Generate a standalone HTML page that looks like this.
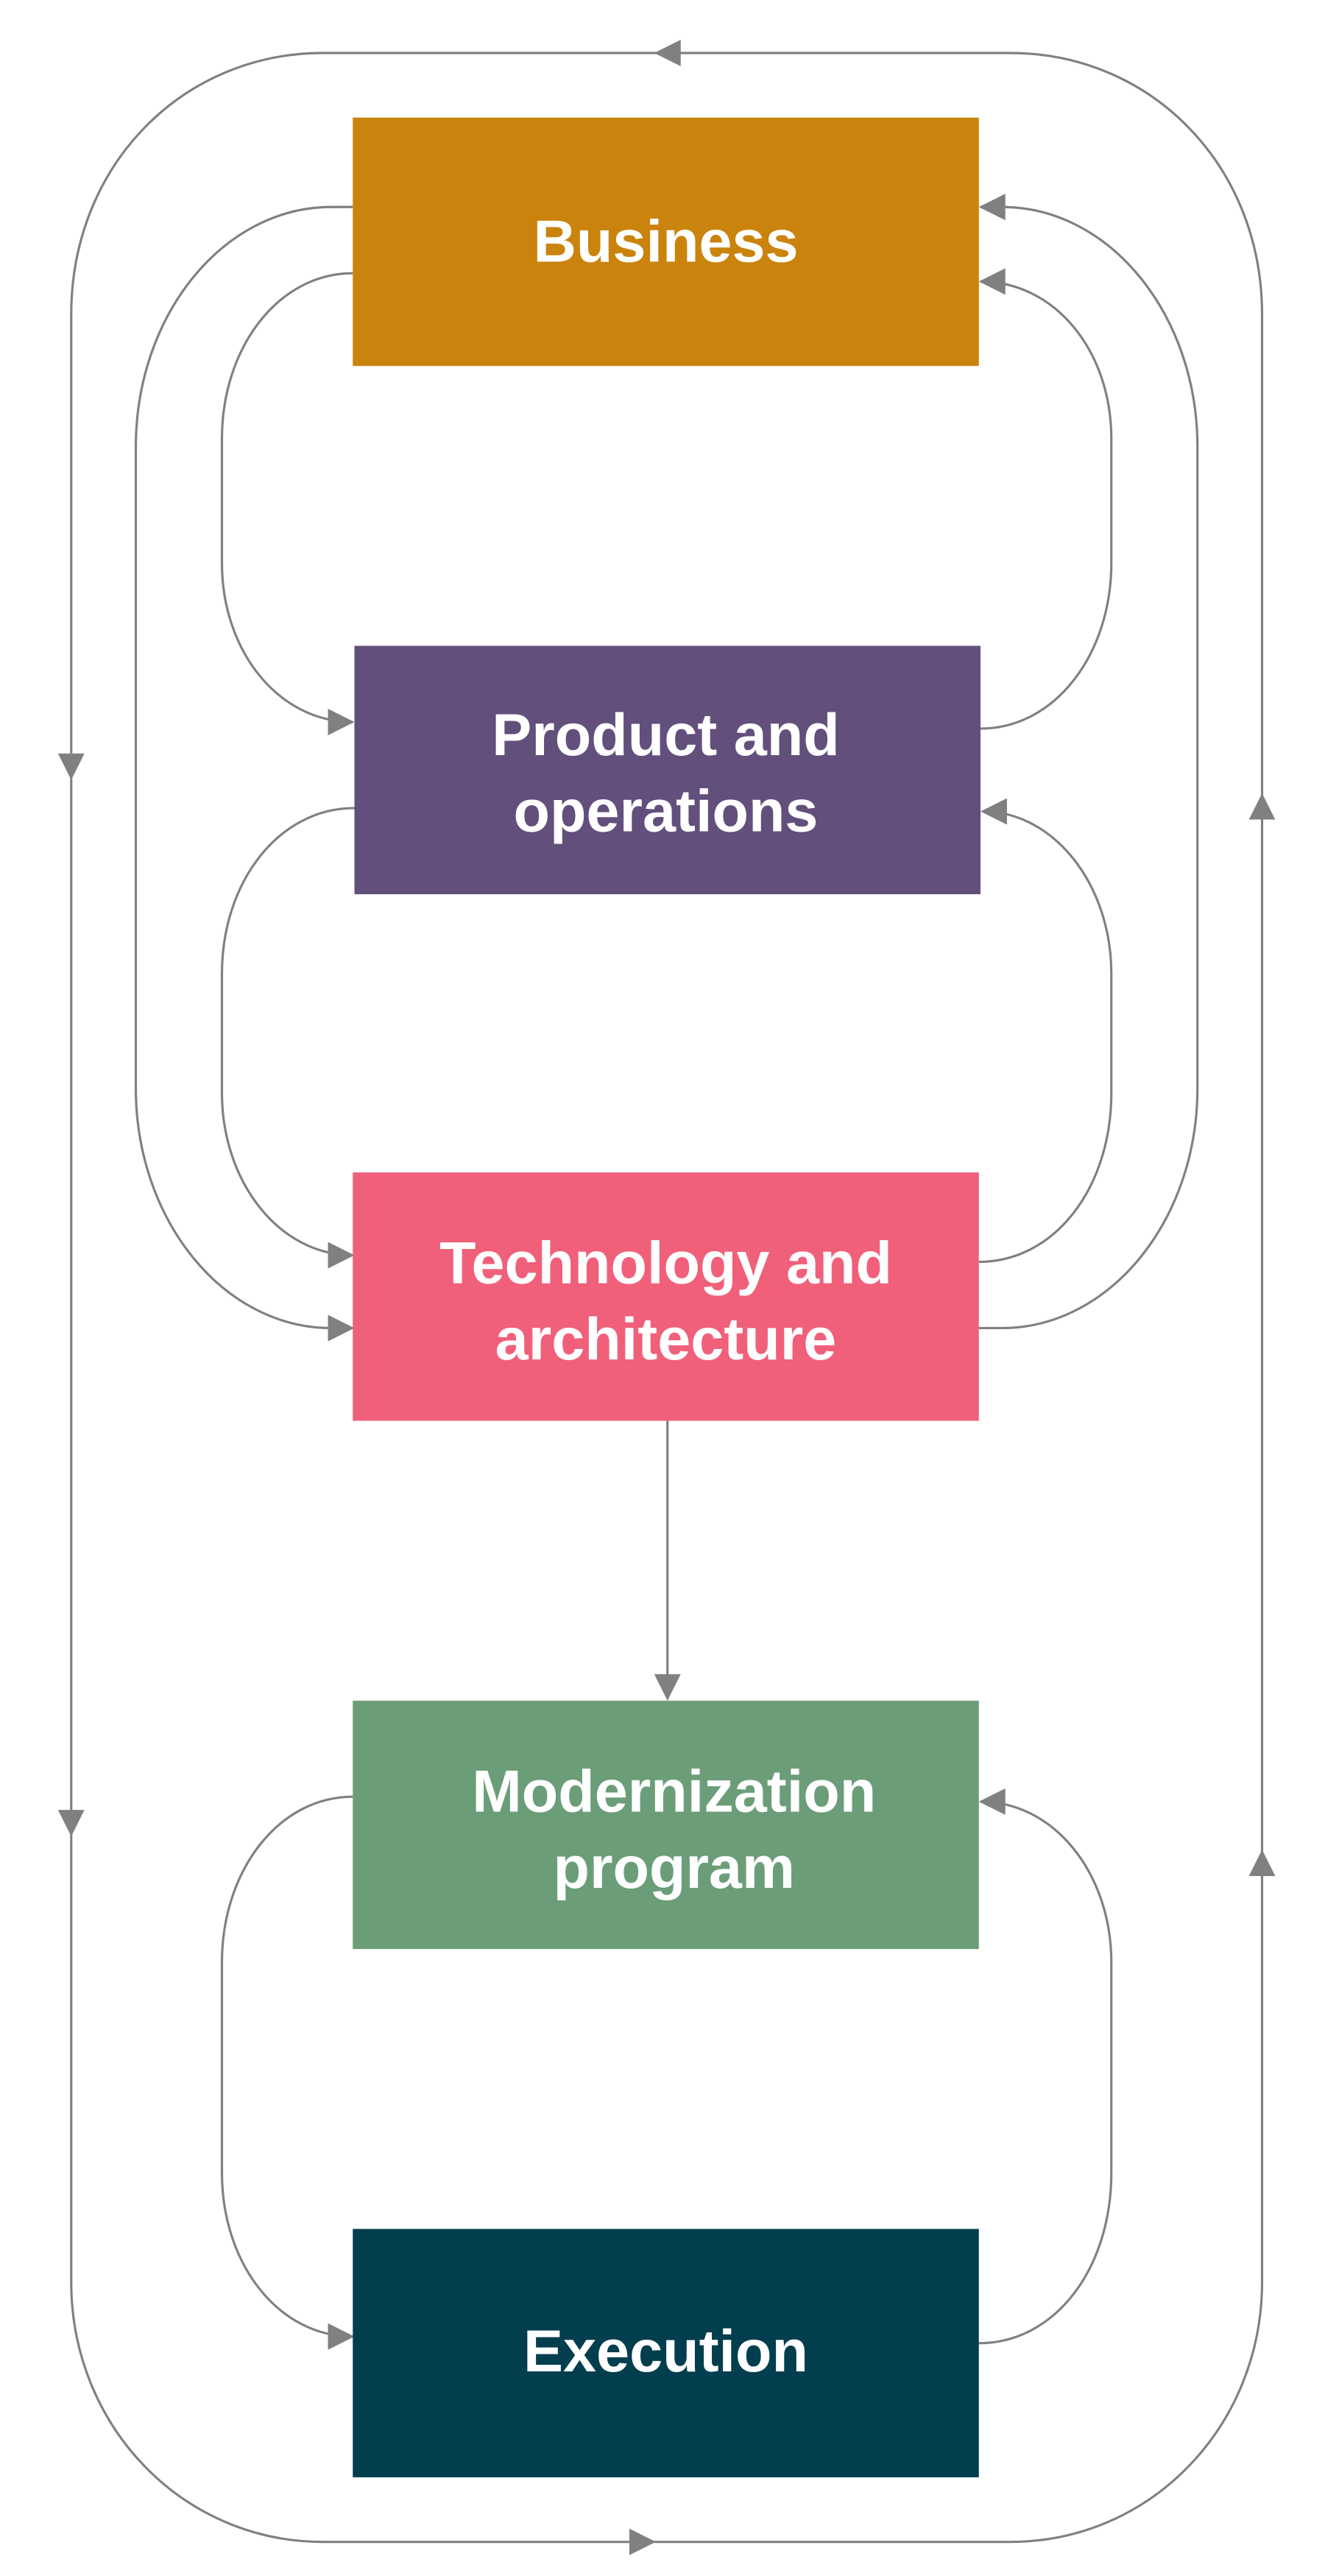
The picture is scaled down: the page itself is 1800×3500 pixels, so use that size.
<!DOCTYPE html>
<html><head><meta charset="utf-8"><style>
html,body{margin:0;padding:0;background:#fff;}
svg{display:block;}
text{font-family:"Liberation Sans",sans-serif;font-weight:bold;fill:#fff;font-size:36px;text-anchor:middle;}
</style></head><body>
<svg width="1800" height="3500" viewBox="0 0 800 1555.6" preserveAspectRatio="none" xmlns="http://www.w3.org/2000/svg">
<defs>
<marker id="a" markerUnits="userSpaceOnUse" markerWidth="16" markerHeight="16" refX="15" refY="8" orient="auto">
<path d="M0,0 L16,8 L0,16 Z" fill="#808080"/>
</marker>
</defs>
<g fill="none" stroke="#808080" stroke-width="1.4">
<!-- outer loop -->
<path d="M410,32 L195,32 C110,32 43,100 43,190 L43,470" marker-end="url(#a)"/>
<path d="M43,470 L43,1108" marker-end="url(#a)"/>
<path d="M43,1108 L43,1378 C43,1465 110,1535 195,1535 L395,1535" marker-end="url(#a)"/>
<path d="M395,1535 L610,1535 C695,1535 762,1465 762,1378 L762,1118" marker-end="url(#a)"/>
<path d="M762,1118 L762,480" marker-end="url(#a)"/>
<path d="M762,480 L762,190 C762,100 695,32 610,32 L396,32" marker-end="url(#a)"/>
<!-- middle loop -->
<path d="M213,125 L200,125 C135,125 82,190 82,270 L82,657 C82,737 135,802 200,802 L213,802" marker-end="url(#a)"/>
<path d="M591,802 L605,802 C670,802 723,737 723,657 L723,270 C723,190 670,125 605,125 L592,125" marker-end="url(#a)"/>
<!-- inner loops -->
<path d="M213,165 C168,165 134,210 134,265 L134,340 C134,393 168,436 213,436" marker-end="url(#a)"/>
<path d="M592,440 C637,440 671,395 671,340 L671,265 C671,212 637,170 592,170" marker-end="url(#a)"/>
<path d="M214,488 C168,488 134,533 134,588 L134,660 C134,713 168,758 213,758" marker-end="url(#a)"/>
<path d="M591,762 C637,762 671,717 671,660 L671,588 C671,535 637,490 593,490" marker-end="url(#a)"/>
<path d="M213,1085 C168,1085 134,1130 134,1185 L134,1312 C134,1367 168,1411 213,1411" marker-end="url(#a)"/>
<path d="M591,1415 C637,1415 671,1370 671,1312 L671,1185 C671,1132 637,1088 592,1088" marker-end="url(#a)"/>
<!-- tech to modernization -->
<path d="M403,858 L403,1026" marker-end="url(#a)"/>
</g>
<rect x="213" y="71" width="378" height="150" fill="#CA830C"/>
<rect x="214" y="390" width="378" height="150" fill="#624F7C"/>
<rect x="213" y="708" width="378" height="150" fill="#F0607A"/>
<rect x="213" y="1027" width="378" height="150" fill="#6B9E78"/>
<rect x="213" y="1346" width="378" height="150" fill="#033E4F"/>
<text x="402" y="158">Business</text>
<text x="402" y="456">Product and</text>
<text x="402" y="502">operations</text>
<text x="402" y="775">Technology and</text>
<text x="402" y="821">architecture</text>
<text x="407" y="1094">Modernization</text>
<text x="407" y="1140">program</text>
<text x="402" y="1432">Execution</text>
</svg>
</body></html>
